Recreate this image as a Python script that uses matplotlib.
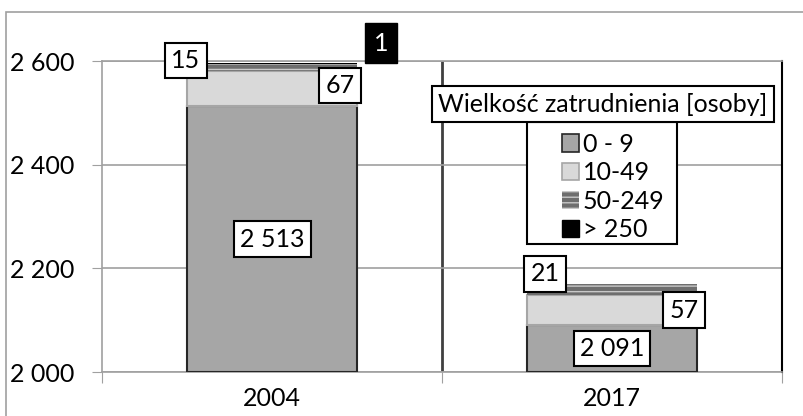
import numpy as np
import matplotlib
matplotlib.use("Agg")
import matplotlib.pyplot as plt
from matplotlib.patches import Rectangle, Patch

plt.rcParams['font.family'] = ['Lato', 'DejaVu Sans']

# dane
lata = ["2004", "2017"]
firmy_0_9 = [2513, 2091]
firmy_10_49 = [67, 57]
firmy_50_249 = [15, 21]
firmy_250 = [1, 0]
grupy = ["0 - 9", "10-49", "50-249", "> 250"]
yticks = [2000, 2200, 2400, 2600]
ytick_labels = ["2 000", "2 200", "2 400", "2 600"]

fs = 18
fig = plt.figure(figsize=(8.04, 4.16), dpi=100)
ax = fig.add_axes([102/804, 1-372/416, 680/804, 311/416])

x = np.arange(len(lata))
w = 0.5
base = 2000
b0 = np.array(firmy_0_9)
b1 = b0 + np.array(firmy_10_49)
b2 = b1 + np.array(firmy_50_249)

ax.bar(x, b0 - base, w, bottom=base, color='#a6a6a6', edgecolor='#262626', lw=1.5, zorder=3)
ax.bar(x, firmy_10_49, w, bottom=b0, color='#d9d9d9', edgecolor='#a6a6a6', lw=1.5, zorder=3)
ax.bar(x, firmy_50_249, w, bottom=b1, color='#6e6e6e', edgecolor='#c8c8c8', lw=0, hatch='---', zorder=3)
ax.bar(x, firmy_250, w, bottom=b2, color='black', lw=0, zorder=3)

ax.set_xlim(-0.5, 1.5)
ax.set_ylim(2000, 2600)
ax.set_yticks(yticks)
ax.set_yticklabels(ytick_labels, fontsize=fs)
ax.tick_params(axis='y', length=7, color='#a0a0a0', pad=13)
ax.set_xticks([-0.5, 0.5, 1.5])
ax.set_xticklabels([])
ax.tick_params(axis='x', which='major', length=8, color='#a0a0a0')
ax.set_xticks(x, minor=True)
ax.set_xticklabels(lata, minor=True, fontsize=fs)
ax.tick_params(axis='x', which='minor', length=0, pad=11)

ax.yaxis.grid(True, color='#a0a0a0', lw=1.2, zorder=0)
ax.axvline(0.5, color='#404040', lw=2, zorder=1)
for s in ['left', 'bottom', 'top']:
    ax.spines[s].set_color('#a0a0a0')
    ax.spines[s].set_linewidth(1.2)
ax.spines['right'].set_color('black')
ax.spines['right'].set_linewidth(1.5)

box = dict(boxstyle='square,pad=0.25', fc='white', ec='black', lw=1.5)
# etykiety
for i in range(len(lata)):
    ax.text(x[i], (base + b0[i]) / 2, f"{b0[i]:,}".replace(",", " "),
            ha='center', va='center', fontsize=fs, bbox=box, zorder=5)
ax.annotate(str(firmy_10_49[0]), (x[0] + w/2, (b0[0] + b1[0]) / 2), xytext=(-17, 3),
            textcoords='offset pixels', ha='center', va='center', fontsize=fs, bbox=box, zorder=5)
ax.annotate(str(firmy_10_49[1]), (x[1] + w/2, (b0[1] + b1[1]) / 2), xytext=(-13, 0),
            textcoords='offset pixels', ha='center', va='center', fontsize=fs, bbox=box, zorder=5)
ax.annotate(str(firmy_50_249[0]), (x[0] - w/2, (b1[0] + b2[0]) / 2), xytext=(-1, 7),
            textcoords='offset pixels', ha='center', va='center', fontsize=fs, bbox=box, zorder=5)
ax.annotate(str(firmy_50_249[1]), (x[1] - w/2, (b1[1] + b2[1]) / 2), xytext=(18, 16),
            textcoords='offset pixels', ha='center', va='center', fontsize=fs, bbox=box, zorder=5)
ax.annotate(str(firmy_250[0]), (x[0] + w/2, b2[0] + firmy_250[0]), xytext=(24, 20),
            textcoords='offset pixels', ha='center', va='center', fontsize=fs, color='white',
            bbox=dict(boxstyle='square,pad=0.35', fc='black', ec='black'), zorder=5)

# legenda
uchwyty = [Patch(fc='#a6a6a6', ec='#262626', lw=1.2),
           Patch(fc='#d9d9d9', ec='#a6a6a6', lw=1.2),
           Patch(fc='#6e6e6e', ec='#c8c8c8', lw=0, hatch='---'),
           Patch(fc='black', ec='black')]
fig.patches.append(Rectangle((527/804, 1-244/416), 150/804, 122/416, transform=fig.transFigure,
                             fc='white', ec='black', lw=1.5, zorder=5))
leg = fig.legend(uchwyty, grupy, loc='upper left', bbox_to_anchor=(553/804, 1-124/416),
                 borderaxespad=0, fontsize=fs, frameon=False,
                 handlelength=0.7, handleheight=0.7, handletextpad=0.15,
                 labelspacing=0.22, borderpad=0.35)
leg.set_zorder(6)
fig.text(603/804, 1-104/416, "Wielkość zatrudnienia [osoby]", ha='center', va='center',
         fontsize=fs, zorder=10,
         bbox=dict(boxstyle='square,pad=0.25', fc='white', ec='black', lw=1.5))

fig.patches.append(Rectangle((6/804, -0.2), 1.2, 1.2 - 12/416, transform=fig.transFigure,
                             fill=False, ec='#a0a0a0', lw=1.2))

fig.savefig("out.png", dpi=100)
